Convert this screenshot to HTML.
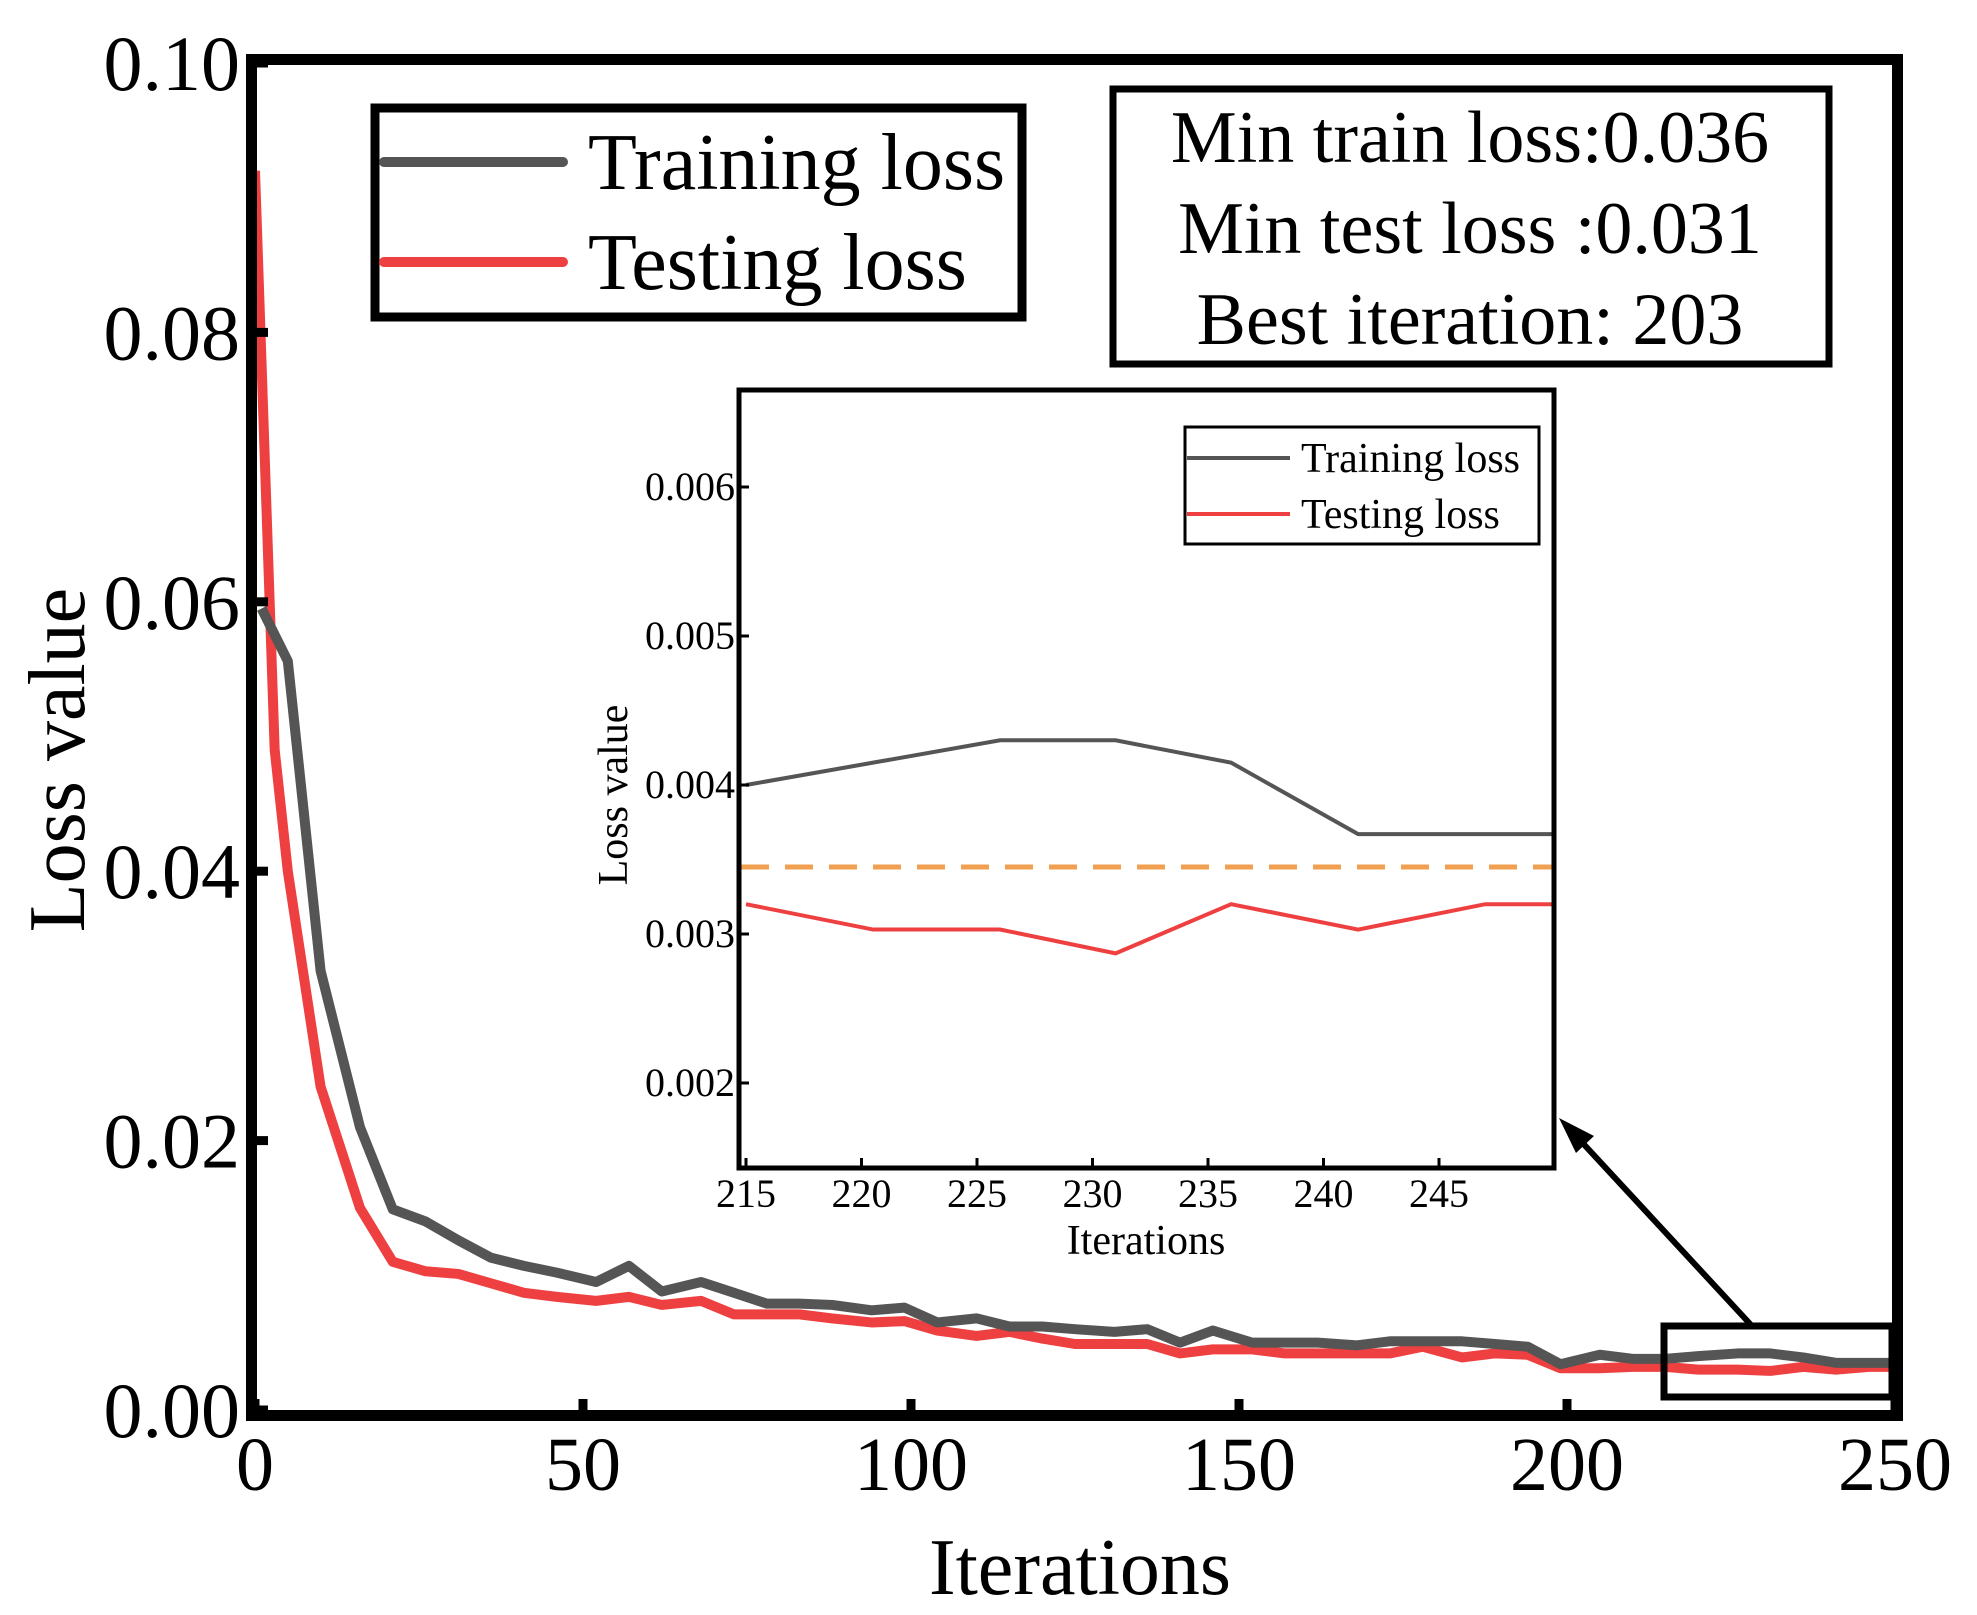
<!DOCTYPE html>
<html><head><meta charset="utf-8"><style>
html,body{margin:0;padding:0;background:#fff;}
svg{display:block;font-family:"Liberation Serif",serif;}
</style></head><body>
<svg id="chart" width="1977" height="1615" viewBox="0 0 1977 1615" xmlns="http://www.w3.org/2000/svg"></svg>
<script>
const iterations=[1,5,10,16,21,26,31,36,41,46,52,57,62,68,73,78,83,88,94,99,104,110,115,120,125,131,136,141,146,152,157,162,168,173,178,184,189,194,199,205,210,215,220,226,231,236,241,250];
const trainLoss=[0.0595,0.0556,0.0326,0.021,0.0149,0.014,0.0126,0.0113,0.0107,0.0102,0.0095,0.0107,0.0088,0.0095,0.0087,0.0079,0.0079,0.0078,0.0074,0.0076,0.0065,0.0068,0.0062,0.0062,0.006,0.0058,0.006,0.005,0.0059,0.005,0.005,0.005,0.0048,0.0051,0.0051,0.0051,0.0049,0.0047,0.0034,0.0041,0.0038,0.0038,0.004,0.0042,0.0042,0.0039,0.0035,0.0035];
const testIterations=[0,3,5,10,16,21,26,31,36,41,46,52,57,62,68,73,78,83,88,94,99,104,110,115,120,125,131,136,141,146,152,157,162,168,173,178,184,189,194,199,205,210,215,220,226,231,236,241,246,250];
const testLoss=[0.092,0.049,0.04,0.024,0.015,0.011,0.0103,0.0101,0.0094,0.0087,0.0084,0.0081,0.0084,0.0078,0.0081,0.0071,0.0071,0.0071,0.0068,0.0065,0.0066,0.0059,0.0055,0.0058,0.0053,0.0049,0.0049,0.0049,0.0042,0.0045,0.0045,0.0042,0.0042,0.0042,0.0042,0.0047,0.0039,0.0042,0.0041,0.0031,0.0031,0.0032,0.0032,0.003,0.003,0.0029,0.0032,0.003,0.0032,0.0032];
const xTicks=[0,50,100,150,200,250];
const yTicks=[0,0.02,0.04,0.06,0.08,0.10];
const yTickLabels=["0.00","0.02","0.04","0.06","0.08","0.10"];
const insetIterations=[215,220.5,226,231,236,241.5,250];
const insetTrain=[0.0040,0.00415,0.0043,0.0043,0.00415,0.00367,0.00367];
const insetTestIterations=[215,220.5,226,231,236,241.5,247,250];
const insetTest=[0.0032,0.00303,0.00303,0.00287,0.0032,0.00303,0.0032,0.0032];
const insetRef=[0.00345];
const insetXTicks=[215,220,225,230,235,240,245];
const insetYTicks=[0.002,0.003,0.004,0.005,0.006];
const insetYLabels=["0.002","0.003","0.004","0.005","0.006"];

const NS="http://www.w3.org/2000/svg";
const svg=document.getElementById('chart');
function mk(tag,attrs,parent){const e=document.createElementNS(NS,tag);for(const k in attrs)e.setAttribute(k,attrs[k]);(parent||svg).appendChild(e);return e;}
const X=v=>255+(v/250)*1640;
const Y=v=>1410-(v/0.10)*1347;
const IX=v=>746+(v-215)/5*115.5;
const IY=v=>1083-(v-0.002)*149000;

let p=mk('polyline',{points:testIterations.map((d,i)=>X(d)+','+Y(testLoss[i])).join(' '),fill:'none',stroke:'#ee4040','stroke-width':10,'stroke-linejoin':'round'});


p=mk('polyline',{points:iterations.map((d,i)=>X(d)+','+Y(trainLoss[i])).join(' '),fill:'none',stroke:'#555555','stroke-width':10,'stroke-linejoin':'round'});



let f=mk('rect',{x:251.5,y:59.5,width:1646,height:1356,fill:'none',stroke:'#000','stroke-width':11});


xTicks.forEach(t=>{
  let l=mk('line',{x1:X(t),x2:X(t),y1:1410,y2:1399,stroke:'#000','stroke-width':9});
  
  
  let tx=mk('text',{x:X(t),y:1490,'font-size':76,'text-anchor':'middle'});tx.textContent=t;
  
  
});
yTicks.forEach((t,i)=>{
  let l=mk('line',{x1:257,x2:268,y1:Y(t),y2:Y(t),stroke:'#000','stroke-width':9});
  
  
  let tx=mk('text',{x:240,y:Y(t)+27,'font-size':78,'text-anchor':'end'});tx.textContent=yTickLabels[i];
  
  
});
let t=mk('text',{x:1080,y:1594,'font-size':80,'text-anchor':'middle'});t.textContent='Iterations';

t=mk('text',{x:0,y:0,'font-size':80,'text-anchor':'middle',transform:'translate(84,760) rotate(-90)'});t.textContent='Loss value';


let g=mk('g',{});
mk('rect',{x:375,y:108,width:647,height:209,fill:'#fff',stroke:'#000','stroke-width':9},g);
mk('line',{x1:384,x2:563,y1:162,y2:162,stroke:'#555555','stroke-width':10,'stroke-linecap':'round'},g);
mk('line',{x1:384,x2:563,y1:262,y2:262,stroke:'#ee4040','stroke-width':10,'stroke-linecap':'round'},g);
t=mk('text',{x:588,y:189,'font-size':80},g);t.textContent='Training loss';

t=mk('text',{x:588,y:289,'font-size':80},g);t.textContent='Testing loss';


g=mk('g',{});
mk('rect',{x:1113,y:89,width:716,height:275,fill:'#fff',stroke:'#000','stroke-width':7},g);
['Min train loss:0.036','Min test loss :0.031','Best iteration: 203'].forEach((s,i)=>{
  let tt=mk('text',{x:1470,y:162+i*91,'font-size':74,'text-anchor':'middle'},g);tt.textContent=s;
  
  
});

let zb=mk('rect',{x:1664,y:1326,width:228,height:71,fill:'none',stroke:'#000','stroke-width':7});

let ar=mk('line',{x1:1752,y1:1326,x2:1578,y2:1138,stroke:'#000','stroke-width':6});

let ah=mk('polygon',{points:'1559,1118 1594,1136 1576,1153',fill:'#000'});


g=mk('g',{});
mk('rect',{x:739,y:390,width:815,height:778,fill:'#fff'},g);
let d=mk('line',{x1:741,x2:1552,y1:IY(insetRef[0]),y2:IY(insetRef[0]),stroke:'#f0a050','stroke-width':5,'stroke-dasharray':'28,16'},g);

p=mk('polyline',{points:insetIterations.map((v,i)=>IX(v)+','+IY(insetTrain[i])).join(' '),fill:'none',stroke:'#555555','stroke-width':4},g);

p=mk('polyline',{points:insetTestIterations.map((v,i)=>IX(v)+','+IY(insetTest[i])).join(' '),fill:'none',stroke:'#ee4040','stroke-width':4},g);

mk('rect',{x:739,y:390,width:815,height:778,fill:'none',stroke:'#000','stroke-width':5},g);
insetXTicks.forEach(v=>{
  mk('line',{x1:IX(v),x2:IX(v),y1:1166,y2:1158,stroke:'#000','stroke-width':3},g);
  let tx=mk('text',{x:IX(v),y:1207,'font-size':40,'text-anchor':'middle'},g);tx.textContent=v;
  
});
insetYTicks.forEach((v,i)=>{
  mk('line',{x1:741,x2:749,y1:IY(v),y2:IY(v),stroke:'#000','stroke-width':3},g);
  let tx=mk('text',{x:735,y:IY(v)+13,'font-size':40,'text-anchor':'end'},g);tx.textContent=insetYLabels[i];
  
});
t=mk('text',{x:1146,y:1254,'font-size':42,'text-anchor':'middle'},g);t.textContent='Iterations';

t=mk('text',{x:0,y:0,'font-size':42,'text-anchor':'middle',transform:'translate(627,795) rotate(-90)'},g);t.textContent='Loss value';

let lg=mk('g',{},g);
mk('rect',{x:1185,y:427,width:354,height:117,fill:'#fff',stroke:'#000','stroke-width':3},lg);
mk('line',{x1:1187,x2:1290,y1:458,y2:458,stroke:'#555555','stroke-width':4},lg);
mk('line',{x1:1187,x2:1290,y1:514,y2:514,stroke:'#ee4040','stroke-width':4},lg);
t=mk('text',{x:1301,y:472,'font-size':42},lg);t.textContent='Training loss';

t=mk('text',{x:1301,y:528,'font-size':42},lg);t.textContent='Testing loss';

</script>
</body></html>
